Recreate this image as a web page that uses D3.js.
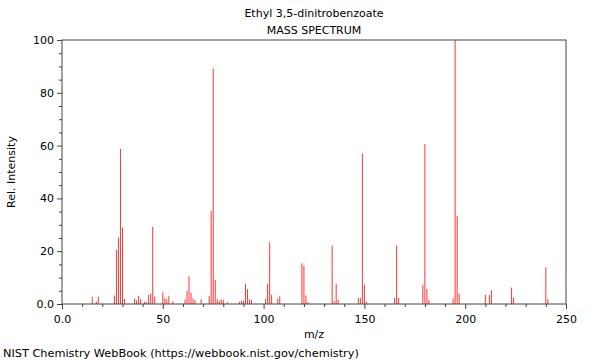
<!DOCTYPE html>
<html>
<head>
<meta charset="utf-8">
<script src="https://cdn.jsdelivr.net/npm/d3@7"></script>
<style>
  html, body { margin: 0; padding: 0; background: #fff; }
  svg { display: block; font-family: "DejaVu Sans", sans-serif; }
</style>
</head>
<body>
<svg id="chart" width="600" height="360"></svg>
<script>
const title = "Ethyl 3,5-dinitrobenzoate";
const subtitle = "MASS SPECTRUM";
const xLabel = "m/z";
const yLabel = "Rel. Intensity";
const footer = "NIST Chemistry WebBook (https://webbook.nist.gov/chemistry)";

const mz = [15,17,18,26,27,28,29,30,31,36,37,38,39,41,42,43,44,45,46,50,51,52,53,55,
  61,62,63,64,65,66,69,73,74,75,76,77,78,79,80,82,88,89,90,91,92,93,94,
  101,102,103,104,107,108,119,120,121,122,134,135,136,137,147,148,149,150,151,
  165,166,167,179,180,181,182,194,195,196,197,210,212,213,223,224,240,241];
const intensity = [2.7,0.9,2.9,3.2,20.5,25.2,58.8,29.0,1.9,2.0,1.4,3.1,2.0,0.9,0.7,3.4,3.9,29.2,2.8,4.4,2.2,1.8,3.1,1.0,
  1.7,4.9,10.5,4.3,2.0,1.4,1.8,3.0,35.2,89.2,9.1,1.9,1.2,1.7,1.5,0.7,0.8,1.2,1.3,7.7,5.6,1.7,1.6,
  2.0,7.7,23.4,3.5,2.0,2.9,15.4,14.5,3.3,0.8,22.1,1.0,7.7,1.6,2.3,2.3,57.0,7.3,0.9,
  2.3,22.2,2.3,7.3,60.6,5.7,1.5,2.2,100,33.4,4.0,3.4,3.4,5.2,6.2,2.4,13.9,1.8];

const xMajor = [0, 50, 100, 150, 200, 250];
const xMajorLabels = ["0.0", "50", "100", "150", "200", "250"];
const xMinor = [10,20,30,40,60,70,80,90,110,120,130,140,160,170,180,190,210,220,230,240];
const yMajor = [0, 20, 40, 60, 80, 100];
const yMajorLabels = ["0.0", "20", "40", "60", "80", "100"];
const yMinor = [5,10,15,25,30,35,45,50,55,65,70,75,85,90,95];

const svg = d3.select("#chart");
const L = 62, R = 566, T = 40, B = 304;
const axisColor = "#444";

const x = d3.scaleLinear().domain([0, 250]).range([L, R]);
const y = d3.scaleLinear().domain([0, 100]).range([B, T]);

// peaks
svg.append("g").selectAll("line").data(mz).join("line")
  .attr("x1", d => x(d)).attr("x2", d => x(d))
  .attr("y1", y(0)).attr("y2", (d, i) => y(intensity[i]))
  .attr("stroke", "#ff0000").attr("stroke-opacity", 0.8).attr("stroke-width", 1);

// frame
svg.append("rect").attr("x", L).attr("y", T).attr("width", R - L).attr("height", B - T)
  .attr("fill", "none").attr("stroke", axisColor).attr("stroke-width", 1);

function styleAxis(g) {
  g.select(".domain").remove();
  g.selectAll("line").attr("stroke", axisColor);
  g.selectAll("text").attr("fill", "#000").style("font-size", "11px").style("font-family", "DejaVu Sans, sans-serif");
}

// x axes
svg.append("g").attr("transform", `translate(0,${B})`)
  .call(d3.axisBottom(x).tickValues(xMajor).tickSize(5).tickPadding(6)
    .tickFormat((d, i) => xMajorLabels[i]))
  .call(styleAxis);
svg.append("g").attr("transform", `translate(0,${B})`)
  .call(d3.axisBottom(x).tickValues(xMinor).tickSize(3).tickFormat(""))
  .call(styleAxis);

// y axes
svg.append("g").attr("transform", `translate(${L},0)`)
  .call(d3.axisLeft(y).tickValues(yMajor).tickSize(5).tickPadding(3)
    .tickFormat((d, i) => yMajorLabels[i]))
  .call(styleAxis);
svg.append("g").attr("transform", `translate(${L},0)`)
  .call(d3.axisLeft(y).tickValues(yMinor).tickSize(3).tickFormat(""))
  .call(styleAxis);

// titles
const cx = (L + R) / 2;
svg.append("text").attr("x", cx).attr("y", 17).attr("text-anchor", "middle")
  .style("font-size", "11px").text(title);
svg.append("text").attr("x", cx).attr("y", 34).attr("text-anchor", "middle")
  .style("font-size", "11px").text(subtitle);
svg.append("text").attr("x", cx).attr("y", 338).attr("text-anchor", "middle")
  .style("font-size", "11px").text(xLabel);
svg.append("text").attr("transform", `translate(15,${(T + B) / 2}) rotate(-90)`)
  .attr("text-anchor", "middle").style("font-size", "11px").text(yLabel);
svg.append("text").attr("x", 3).attr("y", 357)
  .style("font-size", "11.3px").text(footer);
</script>
</body>
</html>
